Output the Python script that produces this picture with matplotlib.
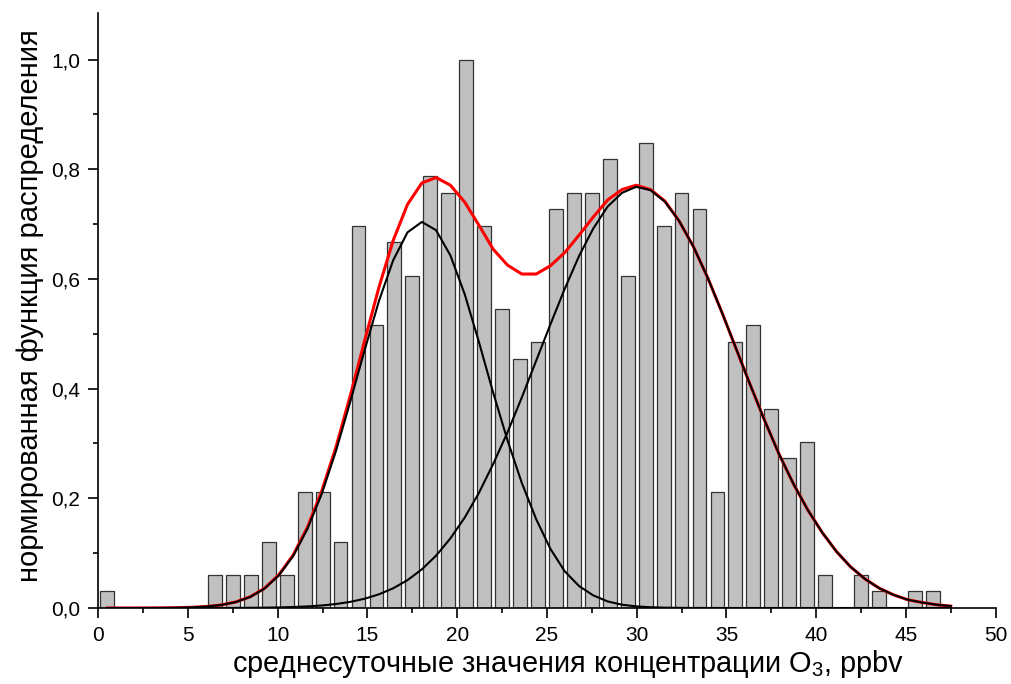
import matplotlib
matplotlib.use("Agg")
import matplotlib.pyplot as plt
from matplotlib.ticker import MultipleLocator, FuncFormatter

plt.rcParams['font.family'] = ['Liberation Sans', 'DejaVu Sans']
plt.rcParams['mathtext.default'] = 'regular'

# histogram: bin centres and day counts (normalised by the largest bin)
bin_centers = [0.5, 6.5, 7.5, 8.5, 9.5, 10.5, 11.5, 12.5, 13.5, 14.5, 15.5, 16.5,
               17.5, 18.5, 19.5, 20.5, 21.5, 22.5, 23.5, 24.5, 25.5, 26.5, 27.5,
               28.5, 29.5, 30.5, 31.5, 32.5, 33.5, 34.5, 35.5, 36.5, 37.5, 38.5,
               39.5, 40.5, 42.5, 43.5, 45.5, 46.5]
counts = [1, 2, 2, 2, 4, 2, 7, 7, 4, 23, 17, 22,
          20, 26, 25, 33, 23, 18, 15, 16, 24, 25, 25,
          27, 20, 28, 23, 25, 24, 7, 16, 17, 12, 9,
          10, 2, 2, 1, 1, 1]

# fitted curves at the polyline vertices
curve_x = [0.5, 1.3, 2.09, 2.89, 3.69, 4.48, 5.28, 6.08, 6.87, 7.67,
           8.47, 9.26, 10.06, 10.86, 11.65, 12.45, 13.25, 14.04, 14.84, 15.64,
           16.43, 17.23, 18.03, 18.82, 19.62, 20.42, 21.21, 22.01, 22.81, 23.6,
           24.4, 25.19, 25.99, 26.79, 27.58, 28.38, 29.18, 29.97, 30.77, 31.57,
           32.36, 33.16, 33.96, 34.75, 35.55, 36.35, 37.14, 37.94, 38.74, 39.53,
           40.33, 41.13, 41.92, 42.72, 43.52, 44.31, 45.11, 45.91, 46.7, 47.5]
peak_low = [0.0, 0.0, 0.0, 0.0001, 0.0002, 0.0006, 0.0013, 0.0028, 0.0056, 0.0109,
            0.0202, 0.0353, 0.0594, 0.0948, 0.144, 0.208, 0.287, 0.376, 0.470, 0.560,
            0.634, 0.685, 0.704, 0.689, 0.643, 0.572, 0.485, 0.392, 0.305, 0.228,
            0.162, 0.108, 0.067, 0.040, 0.023, 0.012, 0.006, 0.003, 0.0014, 0.0006,
            0.0003, 0.0001, 0.0001, 0.0, 0.0, 0.0, 0.0, 0.0, 0.0, 0.0,
            0.0, 0.0, 0.0, 0.0, 0.0, 0.0, 0.0, 0.0, 0.0, 0.0]
peak_high = [0.0, 0.0, 0.0, 0.0, 0.0, 0.0, 0.0, 0.0001, 0.0001, 0.0002,
             0.0004, 0.0006, 0.0011, 0.0018, 0.0029, 0.0046, 0.0073, 0.0112, 0.0169, 0.025,
             0.0359, 0.0508, 0.0705, 0.0954, 0.127, 0.165, 0.210, 0.263, 0.321, 0.384,
             0.451, 0.517, 0.582, 0.642, 0.692, 0.732, 0.757, 0.768, 0.762, 0.741,
             0.706, 0.659, 0.602, 0.539, 0.472, 0.405, 0.341, 0.280, 0.226, 0.179,
             0.138, 0.103, 0.075, 0.053, 0.036, 0.024, 0.015, 0.010, 0.006, 0.0035]
total_fit = [0.0, 0.0, 0.0, 0.0001, 0.0002, 0.0006, 0.0013, 0.0029, 0.0057, 0.0111,
             0.0206, 0.0359, 0.0605, 0.0966, 0.147, 0.213, 0.294, 0.387, 0.487, 0.585,
             0.670, 0.736, 0.775, 0.785, 0.771, 0.740, 0.698, 0.654, 0.625, 0.609,
             0.609, 0.624, 0.648, 0.680, 0.713, 0.744, 0.763, 0.771, 0.763, 0.742,
             0.706, 0.659, 0.602, 0.539, 0.472, 0.405, 0.341, 0.280, 0.226, 0.179,
             0.138, 0.103, 0.075, 0.053, 0.036, 0.024, 0.015, 0.010, 0.006, 0.0035]

heights = [c / max(counts) for c in counts]

fig = plt.figure(figsize=(10.11, 6.84), dpi=100)
ax = fig.add_axes([0.0972, 0.1111, 0.8876, 0.8699])

ax.bar(bin_centers, heights, width=0.77, color='#c0c0c0',
       edgecolor='#333333', linewidth=0.9, zorder=2)
ax.plot(curve_x, total_fit, color='#ff0000', lw=2.2, zorder=3)
ax.plot(curve_x, peak_low, color='black', lw=1.5, zorder=4)
ax.plot(curve_x, peak_high, color='black', lw=1.5, zorder=4)

ax.set_xlim(0, 50)
ax.set_ylim(0, 1.085)
ax.spines['top'].set_visible(False)
ax.spines['right'].set_visible(False)
for s in ('left', 'bottom'):
    ax.spines[s].set_linewidth(1.2)

ax.xaxis.set_major_locator(MultipleLocator(5))
ax.xaxis.set_minor_locator(MultipleLocator(2.5))
ax.yaxis.set_major_locator(MultipleLocator(0.2))
ax.yaxis.set_minor_locator(MultipleLocator(0.1))
ax.yaxis.set_major_formatter(FuncFormatter(lambda v, p: ('%.1f' % v).replace('.', ',')))
ax.tick_params(which='major', direction='out', length=7, width=1.2, labelsize=15)
ax.tick_params(which='minor', direction='out', length=3.5, width=1.2)
ax.tick_params(axis='x', which='major', pad=6)
ax.tick_params(axis='y', which='major', pad=6)

ax.set_xlabel('среднесуточные значения концентрации O$_\\mathregular{3}$, ppbv',
              fontsize=20.8)
ax.set_ylabel('нормированная функция распределения', fontsize=21)
ax.xaxis.set_label_coords(0.523, -0.068)
ax.yaxis.set_label_coords(-0.060, 0.508)

plt.savefig('out.png', dpi=100)
